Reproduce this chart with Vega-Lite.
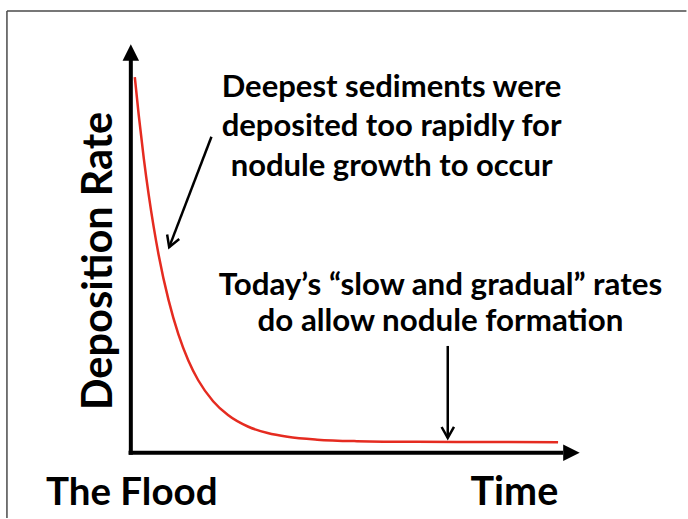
{
  "$schema": "https://vega.github.io/schema/vega-lite/v6.json",
  "width": 688,
  "height": 519,
  "padding": 0,
  "autosize": {"type": "fit", "contains": "padding"},
  "background": "white",
  "config": {"view": {"stroke": null}},
  "datasets": {
    "frame": [
      {"x": -27.65, "y": 108.23, "x2": 124, "y2": 108.23},
      {"x": -27.65, "y": 108.23, "x2": -27.65, "y2": -16}
    ],
    "axes": [
      {"x": 0, "y": -0.5, "x2": 0, "y2": 96.5},
      {"x": -0.5, "y": 0, "x2": 96.5, "y2": 0}
    ],
    "heads": [
      {"x": 0, "y": 98.06, "dir": "up"},
      {"x": 98.34, "y": 0, "dir": "right"}
    ],
    "curve": [
      {"x": 0.885, "y": 92.01},
      {"x": 1.77, "y": 82.62},
      {"x": 2.876, "y": 72.25},
      {"x": 3.982, "y": 63.22},
      {"x": 5.088, "y": 55.38},
      {"x": 6.195, "y": 48.52},
      {"x": 8.407, "y": 37.43},
      {"x": 10.62, "y": 28.98},
      {"x": 12.83, "y": 22.59},
      {"x": 15.04, "y": 17.75},
      {"x": 18.36, "y": 12.62},
      {"x": 21.68, "y": 9.23},
      {"x": 26.11, "y": 6.42},
      {"x": 30.53, "y": 4.82},
      {"x": 34.96, "y": 3.9},
      {"x": 41.59, "y": 3.2},
      {"x": 50.44, "y": 2.83},
      {"x": 63.72, "y": 2.66},
      {"x": 81.42, "y": 2.62},
      {"x": 95.35, "y": 2.54}
    ],
    "pointers": [
      {"seg": "a1", "o": 1, "x": 17.99, "y": 77.41},
      {"seg": "a1", "o": 2, "x": 8.56, "y": 50.36},
      {"seg": "h1", "o": 1, "x": 10.8, "y": 52.35},
      {"seg": "h1", "o": 2, "x": 8.56, "y": 50.36},
      {"seg": "h1", "o": 3, "x": 8.1, "y": 53.46},
      {"seg": "a2", "o": 1, "x": 70.73, "y": 26.15},
      {"seg": "a2", "o": 2, "x": 70.73, "y": 3.63},
      {"seg": "h2", "o": 1, "x": 69.36, "y": 6.3},
      {"seg": "h2", "o": 2, "x": 70.73, "y": 3.63},
      {"seg": "h2", "o": 3, "x": 72.12, "y": 6.3}
    ],
    "labels": [
      {"label": "Deepest sediments were", "x": 58.19, "y": 87.17, "fs": 31},
      {"label": "deposited too rapidly for", "x": 58.19, "y": 77.6, "fs": 31},
      {"label": "nodule growth to occur", "x": 58.19, "y": 67.8, "fs": 31},
      {"label": "Today’s “slow and gradual” rates", "x": 69.1, "y": 38.74, "fs": 31.3},
      {"label": "do allow nodule formation", "x": 69.1, "y": 29.8, "fs": 31.3},
      {"label": "The Flood", "x": 0.2, "y": -12.9, "fs": 38.5},
      {"label": "Time", "x": 85.6, "y": -12.9, "fs": 39.5}
    ],
    "ylabel": [
      {"label": "Deposition Rate", "x": -4.1, "y": 47.0}
    ]
  },
  "encoding": {
    "x": {"field": "x", "type": "quantitative", "scale": {"domain": [-29.2, 123.01], "nice": false, "zero": false}, "axis": null},
    "y": {"field": "y", "type": "quantitative", "scale": {"domain": [-14.77, 110.9], "nice": false, "zero": false}, "axis": null}
  },
  "layer": [
    {
      "data": {"name": "frame"},
      "mark": {"type": "rule", "color": "#4a4a4a", "strokeWidth": 1.5},
      "encoding": {"x2": {"field": "x2"}, "y2": {"field": "y2"}}
    },
    {
      "data": {"name": "axes"},
      "mark": {"type": "rule", "color": "black", "strokeWidth": 4},
      "encoding": {"x2": {"field": "x2"}, "y2": {"field": "y2"}}
    },
    {
      "data": {"name": "heads"},
      "mark": {"type": "point", "filled": true, "color": "black", "opacity": 1, "size": 272},
      "encoding": {
        "shape": {"field": "dir", "type": "nominal", "scale": {"domain": ["up", "right"], "range": ["M0,-1L1,1L-1,1Z", "M1,0L-1,1L-1,-1Z"]}, "legend": null}
      }
    },
    {
      "data": {"name": "curve"},
      "mark": {"type": "line", "color": "#e52b20", "strokeWidth": 2.5, "interpolate": "monotone"},
      "encoding": {}
    },
    {
      "data": {"name": "pointers"},
      "mark": {"type": "line", "color": "black", "strokeWidth": 2.5, "strokeJoin": "miter"},
      "encoding": {
        "detail": {"field": "seg", "type": "nominal"},
        "order": {"field": "o", "type": "quantitative"}
      }
    },
    {
      "data": {"name": "labels"},
      "mark": {"type": "text", "font": "Lato", "fontWeight": "bold", "align": "center", "baseline": "alphabetic", "color": "black"},
      "encoding": {
        "text": {"field": "label"},
        "size": {"field": "fs", "type": "quantitative", "scale": null}
      }
    },
    {
      "data": {"name": "ylabel"},
      "mark": {"type": "text", "font": "Lato", "fontWeight": "bold", "align": "center", "baseline": "alphabetic", "angle": 270, "fontSize": 41.5, "color": "black"},
      "encoding": {"text": {"field": "label"}}
    }
  ]
}
